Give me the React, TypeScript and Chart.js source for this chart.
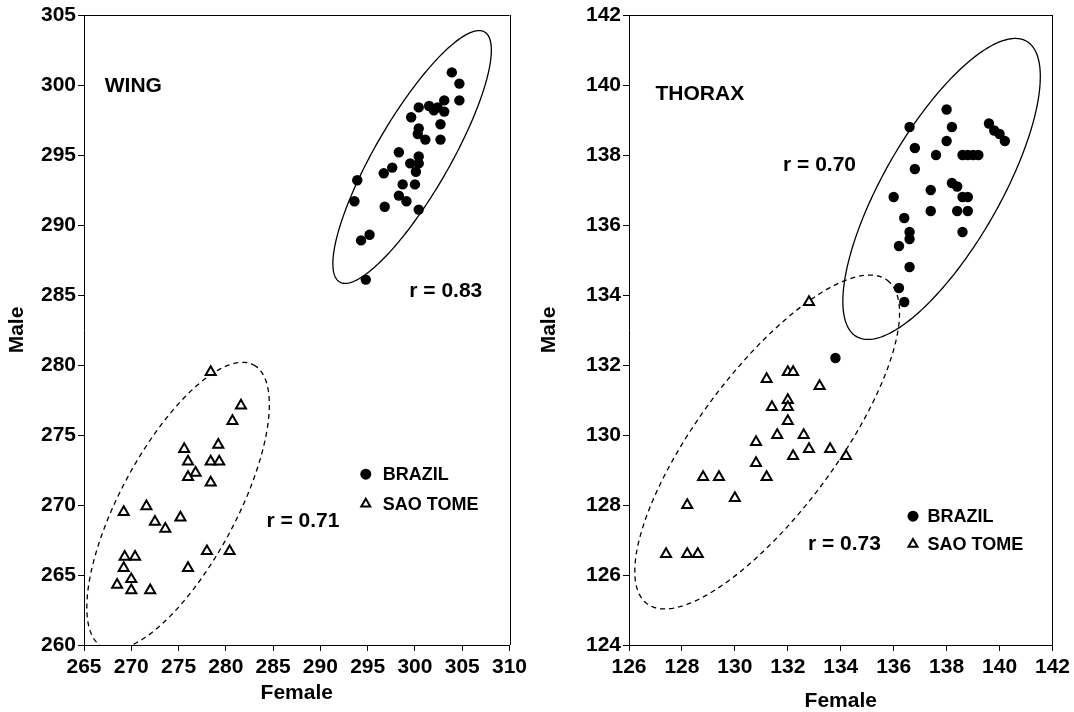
import React, { useEffect, useRef } from "react";
import { Chart, registerables } from "chart.js";
Chart.register(...registerables);

const FONT = '"Liberation Sans", Arial, Helvetica, sans-serif';

// ---------- WING ----------
const wingBrazilFemale = [303.9, 304.7, 304.7, 303.1, 301.5, 300.4, 302.4, 303.1, 302.0, 299.6, 302.7, 300.4, 300.3, 301.1, 302.7, 298.3, 300.4, 299.5, 300.4, 297.6, 296.7, 300.1, 293.9, 298.7, 300.0, 298.3, 299.1, 293.6, 296.8, 300.4, 295.2, 294.3, 294.8];
const wingBrazilMale = [300.9, 300.1, 298.9, 298.9, 298.5, 298.4, 298.4, 298.1, 298.2, 297.7, 297.2, 296.9, 296.5, 296.1, 296.1, 295.2, 294.9, 294.4, 294.4, 294.1, 293.7, 293.8, 293.2, 292.9, 292.9, 292.1, 291.7, 291.7, 291.3, 291.1, 289.3, 288.9, 286.1];
const wingSaoFemale = [278.4, 281.6, 280.7, 279.2, 275.6, 276.0, 278.4, 279.3, 276.8, 276.0, 278.4, 269.2, 271.6, 272.5, 273.6, 275.2, 278.0, 280.4, 269.3, 270.4, 269.2, 276.0, 270.0, 268.5, 270.0, 272.0];
const wingSaoMale = [279.5, 277.1, 276.0, 274.3, 274.0, 273.1, 273.1, 273.1, 272.3, 272.0, 271.6, 269.5, 269.9, 268.8, 268.3, 269.1, 266.7, 266.7, 266.3, 266.3, 265.5, 265.5, 264.7, 264.3, 263.9, 263.9];

// ---------- THORAX ----------
const thoraxBrazilFemale = [138.0, 136.6, 138.2, 139.6, 139.8, 140.0, 140.2, 138.0, 136.8, 137.6, 138.6, 138.8, 139.0, 139.2, 136.8, 138.2, 138.4, 137.4, 138.6, 138.8, 136.0, 137.4, 138.4, 138.8, 136.4, 136.6, 136.6, 136.2, 138.6, 136.6, 136.2, 136.4, 133.8];
const thoraxBrazilMale = [139.3, 138.8, 138.8, 138.9, 138.7, 138.6, 138.4, 138.4, 138.2, 138.0, 138.0, 138.0, 138.0, 138.0, 137.6, 137.2, 137.1, 137.0, 136.8, 136.8, 136.8, 136.4, 136.4, 136.4, 136.2, 135.8, 135.6, 135.4, 135.8, 134.8, 134.2, 133.8, 132.2];
const thoraxSaoFemale = [132.8, 131.2, 132.0, 132.2, 133.2, 131.4, 132.0, 132.0, 132.0, 131.6, 132.6, 130.8, 132.2, 132.8, 133.6, 134.2, 130.8, 131.2, 128.8, 129.4, 130.0, 128.2, 127.4, 128.2, 128.6];
const thoraxSaoMale = [133.8, 131.6, 131.8, 131.8, 131.4, 130.8, 131.0, 130.8, 130.4, 130.0, 130.0, 129.8, 129.4, 129.6, 129.6, 129.4, 129.2, 128.8, 128.8, 128.8, 128.2, 128.0, 126.6, 126.6, 126.6];

// Ellipses (data units): center, conjugate semi-axis vectors
const wingBrazilEllipse = { c: [299.7, 294.86], u: [7.66, 8.93], v: [3.4, -1.33], dashed: false };
const wingSaoEllipse = { c: [274.95, 269.93], u: [8.0, 10.07], v: [5.4, -1.97], dashed: true };
const thoraxBrazilEllipse = { c: [137.81, 137.03], u: [3.21, 4.22], v: [1.9, -0.83], dashed: false };
const thoraxSaoEllipse = { c: [131.22, 129.8], u: [4.54, 4.62], v: [2.1, -1.19], dashed: true };

const seriesNames = ["BRAZIL", "SAO TOME"];

type Note = { text: string; x: number; y: number };

function makeOverlay(ellipses: any[], notes: Note[], legend: { x: number; tx: number; y: number[] }) {
  return {
    id: "overlay",
    beforeDatasetsDraw(chart: any) {
      const { ctx, chartArea, scales } = chart;
      ctx.save();
      ctx.beginPath();
      ctx.rect(chartArea.left, chartArea.top, chartArea.right - chartArea.left, chartArea.bottom - chartArea.top);
      ctx.clip();
      for (const e of ellipses) {
        ctx.beginPath();
        const n = 240;
        for (let i = 0; i <= n; i++) {
          const t = (i / n) * Math.PI * 2;
          const dx = e.c[0] + Math.cos(t) * e.u[0] + Math.sin(t) * e.v[0];
          const dy = e.c[1] + Math.cos(t) * e.u[1] + Math.sin(t) * e.v[1];
          const px = scales.x.getPixelForValue(dx);
          const py = scales.y.getPixelForValue(dy);
          if (i === 0) ctx.moveTo(px, py);
          else ctx.lineTo(px, py);
        }
        ctx.closePath();
        ctx.setLineDash(e.dashed ? [5, 4] : []);
        ctx.lineWidth = 1.3;
        ctx.strokeStyle = "#000";
        ctx.stroke();
      }
      ctx.restore();
    },
    afterDraw(chart: any) {
      const { ctx, chartArea, scales } = chart;
      ctx.save();
      ctx.strokeStyle = "#000";
      ctx.lineWidth = 1;
      ctx.setLineDash([]);
      ctx.beginPath();
      ctx.moveTo(chartArea.left, Math.round(chartArea.top) + 0.5);
      ctx.lineTo(chartArea.right, Math.round(chartArea.top) + 0.5);
      ctx.moveTo(Math.round(chartArea.right) + 0.5, chartArea.top);
      ctx.lineTo(Math.round(chartArea.right) + 0.5, chartArea.bottom);
      ctx.stroke();
      ctx.fillStyle = "#000";
      ctx.textBaseline = "middle";
      ctx.textAlign = "left";
      ctx.font = `bold 21px ${FONT}`;
      for (const n of notes) {
        ctx.fillText(n.text, scales.x.getPixelForValue(n.x), scales.y.getPixelForValue(n.y));
      }
      const mx = scales.x.getPixelForValue(legend.x);
      const tx = scales.x.getPixelForValue(legend.tx);
      const y0 = scales.y.getPixelForValue(legend.y[0]);
      const y1 = scales.y.getPixelForValue(legend.y[1]);
      ctx.beginPath();
      ctx.arc(mx, y0, 5.5, 0, Math.PI * 2);
      ctx.fill();
      const r = 5.2;
      ctx.beginPath();
      ctx.moveTo(mx, y1 - r);
      ctx.lineTo(mx + r * Math.sin((2 * Math.PI) / 3), y1 - r * Math.cos((2 * Math.PI) / 3));
      ctx.lineTo(mx + r * Math.sin((4 * Math.PI) / 3), y1 - r * Math.cos((4 * Math.PI) / 3));
      ctx.closePath();
      ctx.fillStyle = "#fff";
      ctx.fill();
      ctx.lineWidth = 2;
      ctx.strokeStyle = "#000";
      ctx.stroke();
      ctx.fillStyle = "#000";
      ctx.font = `bold 18px ${FONT}`;
      ctx.fillText(seriesNames[0], tx, y0 + 1);
      ctx.fillText(seriesNames[1], tx, y1 + 1);
      ctx.restore();
    },
  };
}

function toPoints(xs: number[], ys: number[]) {
  return xs.map((x, i) => ({ x, y: ys[i] }));
}

type PanelProps = {
  left: number;
  width: number;
  yAxisWidth: number;
  padRight: number;
  xMin: number; xMax: number; xStep: number;
  yMin: number; yMax: number; yStep: number;
  brazil: { x: number[]; y: number[] };
  sao: { x: number[]; y: number[] };
  ellipses: any[];
  notes: Note[];
  legend: { x: number; tx: number; y: number[] };
  xTitleBottom: number;
  xTitleLineHeight: number;
  yTitlePad: number;
};

function Panel(p: PanelProps) {
  const ref = useRef<HTMLCanvasElement>(null);
  useEffect(() => {
    if (!ref.current) return;
    const tickFont = { family: FONT, size: 21, weight: "bold" as const };
    const titleFont = { family: FONT, size: 21, weight: "bold" as const };
    const chart = new Chart(ref.current, {
      type: "scatter",
      data: {
        datasets: [
          {
            label: seriesNames[0],
            data: toPoints(p.brazil.x, p.brazil.y),
            pointStyle: "circle",
            pointRadius: 5.2,
            backgroundColor: "#000",
            borderColor: "#000",
            borderWidth: 0,
          },
          {
            label: seriesNames[1],
            data: toPoints(p.sao.x, p.sao.y),
            pointStyle: "triangle",
            pointRadius: 5.8,
            backgroundColor: "#fff",
            borderColor: "#000",
            borderWidth: 2,
          },
        ],
      },
      options: {
        animation: false,
        responsive: false,
        events: [],
        layout: { padding: { top: 15, right: p.padRight, left: 0, bottom: 0 } },
        plugins: { legend: { display: false }, tooltip: { enabled: false } },
        scales: {
          x: {
            type: "linear",
            min: p.xMin,
            max: p.xMax,
            ticks: { stepSize: p.xStep, color: "#000", font: tickFont, padding: 4, maxRotation: 0, autoSkip: false },
            grid: { display: true, drawOnChartArea: false, drawTicks: true, tickLength: 6, color: "#000", lineWidth: 1 },
            border: { display: true, color: "#000", width: 1 },
            title: {
              display: true,
              text: "Female",
              color: "#000",
              font: { ...titleFont, lineHeight: p.xTitleLineHeight },
              padding: { top: 0, bottom: p.xTitleBottom },
            },
            afterFit: (s: any) => { s.height = 67; },
          },
          y: {
            type: "linear",
            min: p.yMin,
            max: p.yMax,
            ticks: { stepSize: p.yStep, color: "#000", font: tickFont, padding: 2, autoSkip: false },
            grid: { display: true, drawOnChartArea: false, drawTicks: true, tickLength: 6, color: "#000", lineWidth: 1 },
            border: { display: true, color: "#000", width: 1 },
            title: { display: true, text: "Male", color: "#000", font: titleFont, padding: { top: p.yTitlePad, bottom: 0 } },
            afterFit: (s: any) => { s.width = p.yAxisWidth; },
          },
        },
      },
      plugins: [makeOverlay(p.ellipses, p.notes, p.legend)],
    });
    return () => chart.destroy();
  }, []);
  return (
    <canvas
      ref={ref}
      width={p.width}
      height={712}
      style={{ position: "absolute", left: p.left, top: 0, width: p.width, height: 712 }}
    />
  );
}

export default function App() {
  return (
    <div style={{ position: "fixed", left: 0, top: 0, width: 1074, height: 712, background: "#fff", overflow: "hidden" }}>
      <Panel
        left={0}
        width={537}
        yAxisWidth={84}
        padRight={27.5}
        xMin={265} xMax={310} xStep={5}
        yMin={260} yMax={305} yStep={5}
        brazil={{ x: wingBrazilFemale, y: wingBrazilMale }}
        sao={{ x: wingSaoFemale, y: wingSaoMale }}
        ellipses={[wingBrazilEllipse, wingSaoEllipse]}
        notes={[
          { text: "WING", x: 267.2, y: 299.9 },
          { text: "r = 0.83", x: 299.4, y: 285.3 },
          { text: "r = 0.71", x: 284.3, y: 268.86 },
        ]}
        legend={{ x: 294.8, tx: 296.6, y: [272.2, 270.07] }}
        xTitleBottom={8}
        xTitleLineHeight={1.0}
        yTitlePad={5}
      />
      <Panel
        left={537}
        width={537}
        yAxisWidth={92}
        padRight={21}
        xMin={126} xMax={142} xStep={2}
        yMin={124} yMax={142} yStep={2}
        brazil={{ x: thoraxBrazilFemale, y: thoraxBrazilMale }}
        sao={{ x: thoraxSaoFemale, y: thoraxSaoMale }}
        ellipses={[thoraxBrazilEllipse, thoraxSaoEllipse]}
        notes={[
          { text: "THORAX", x: 127.0, y: 139.73 },
          { text: "r = 0.70", x: 131.82, y: 137.71 },
          { text: "r = 0.73", x: 132.76, y: 126.88 },
        ]}
        legend={{ x: 136.73, tx: 137.28, y: [127.68, 126.88] }}
        xTitleBottom={0}
        xTitleLineHeight={1.0}
        yTitlePad={0}
      />
    </div>
  );
}
